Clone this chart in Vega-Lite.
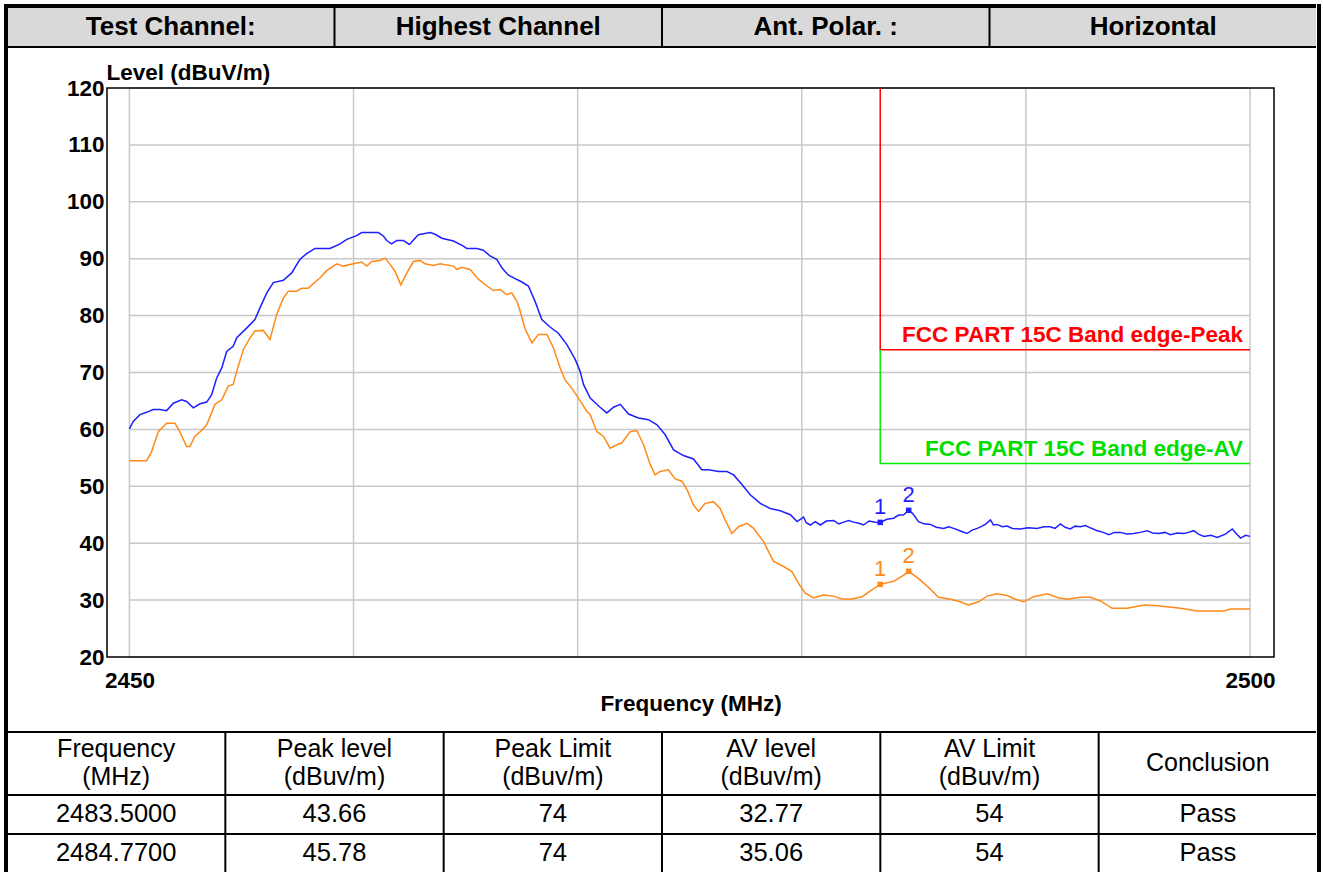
{
  "$schema": "https://vega.github.io/schema/vega-lite/v6.json",
  "background": "#ffffff",
  "padding": {"left": 4, "top": 4, "right": 3, "bottom": 0},
  "config": {"view": {"stroke": null}, "font": "Liberation Sans"},
  "datasets": {
    "head": [
      {"col": "a", "r": "h", "t": "Test Channel:"},
      {"col": "b", "r": "h", "t": "Highest Channel"},
      {"col": "c", "r": "h", "t": "Ant. Polar. :"},
      {"col": "d", "r": "h", "t": "Horizontal"}
    ],
    "fhead": [
      {"col": "a", "r": "h", "n": 2, "t": ["Frequency", "(MHz)"]},
      {"col": "b", "r": "h", "n": 2, "t": ["Peak level", "(dBuv/m)"]},
      {"col": "c", "r": "h", "n": 2, "t": ["Peak Limit", "(dBuv/m)"]},
      {"col": "d", "r": "h", "n": 2, "t": ["AV level", "(dBuv/m)"]},
      {"col": "e", "r": "h", "n": 2, "t": ["AV Limit", "(dBuv/m)"]},
      {"col": "f", "r": "h", "n": 1, "t": ["Conclusion"]}
    ],
    "frows": [
      {"col": "a", "r": "r1", "t": "2483.5000"},
      {"col": "b", "r": "r1", "t": "43.66"},
      {"col": "c", "r": "r1", "t": "74"},
      {"col": "d", "r": "r1", "t": "32.77"},
      {"col": "e", "r": "r1", "t": "54"},
      {"col": "f", "r": "r1", "t": "Pass"},
      {"col": "a", "r": "r2", "t": "2484.7700"},
      {"col": "b", "r": "r2", "t": "45.78"},
      {"col": "c", "r": "r2", "t": "74"},
      {"col": "d", "r": "r2", "t": "35.06"},
      {"col": "e", "r": "r2", "t": "54"},
      {"col": "f", "r": "r2", "t": "Pass"}
    ],
    "gridX": [{"g": 2450}, {"g": 2460}, {"g": 2470}, {"g": 2480}, {"g": 2490}, {"g": 2500}],
    "gridY": [{"g": 20}, {"g": 30}, {"g": 40}, {"g": 50}, {"g": 60}, {"g": 70}, {"g": 80}, {"g": 90}, {"g": 100}, {"g": 110}, {"g": 120}],
    "limPeak": [{"k": 1, "f": 2483.5, "v": 120}, {"k": 2, "f": 2483.5, "v": 74}, {"k": 3, "f": 2500, "v": 74}],
    "limAV": [{"k": 1, "f": 2483.5, "v": 74}, {"k": 2, "f": 2483.5, "v": 54}, {"k": 3, "f": 2500, "v": 54}],
    "limText": [
      {"f": 2500, "v": 74, "t": "FCC PART 15C Band edge-Peak", "c": "PeakLimit"},
      {"f": 2500, "v": 54, "t": "FCC PART 15C Band edge-AV", "c": "AVLimit"}
    ],
    "markers": [
      {"f": 2483.5, "v": 43.66, "n": "1", "c": "Peak"},
      {"f": 2484.77, "v": 45.78, "n": "2", "c": "Peak"},
      {"f": 2483.5, "v": 32.77, "n": "1", "c": "AV"},
      {"f": 2484.77, "v": 35.06, "n": "2", "c": "AV"}
    ],
    "peak": [
      {"f":2450.0,"v":60.1},{"f":2450.17,"v":61.4},{"f":2450.47,"v":62.6},{"f":2450.77,"v":63.0},{"f":2451.06,"v":63.5},{"f":2451.36,"v":63.5},{"f":2451.66,"v":63.3},{"f":2451.96,"v":64.6},{"f":2452.33,"v":65.2},{"f":2452.55,"v":64.9},{"f":2452.85,"v":63.8},{"f":2453.15,"v":64.5},{"f":2453.45,"v":64.8},{"f":2453.67,"v":66.1},{"f":2453.89,"v":69.0},{"f":2454.12,"v":70.8},{"f":2454.34,"v":73.7},{"f":2454.63,"v":74.6},{"f":2454.79,"v":76.1},{"f":2455.23,"v":77.8},{"f":2455.6,"v":79.3},{"f":2455.83,"v":81.4},{"f":2456.13,"v":84.0},{"f":2456.42,"v":85.8},{"f":2456.87,"v":86.2},{"f":2457.24,"v":87.5},{"f":2457.61,"v":89.9},{"f":2457.91,"v":90.9},{"f":2458.28,"v":91.8},{"f":2458.95,"v":91.8},{"f":2459.4,"v":92.6},{"f":2459.7,"v":93.4},{"f":2460.11,"v":94.0},{"f":2460.37,"v":94.6},{"f":2461.11,"v":94.6},{"f":2461.33,"v":94.0},{"f":2461.48,"v":93.2},{"f":2461.7,"v":92.6},{"f":2461.93,"v":93.2},{"f":2462.22,"v":93.2},{"f":2462.49,"v":92.5},{"f":2462.89,"v":94.2},{"f":2463.42,"v":94.6},{"f":2463.64,"v":94.3},{"f":2463.94,"v":93.6},{"f":2464.46,"v":93.1},{"f":2464.9,"v":92.2},{"f":2465.05,"v":91.8},{"f":2465.5,"v":91.8},{"f":2465.79,"v":91.5},{"f":2466.09,"v":90.5},{"f":2466.39,"v":89.9},{"f":2466.62,"v":88.4},{"f":2466.91,"v":87.1},{"f":2467.21,"v":86.5},{"f":2467.51,"v":85.9},{"f":2467.8,"v":85.2},{"f":2468.1,"v":82.5},{"f":2468.4,"v":79.3},{"f":2468.77,"v":78.0},{"f":2469.14,"v":76.9},{"f":2469.52,"v":74.9},{"f":2469.89,"v":72.3},{"f":2470.11,"v":70.2},{"f":2470.26,"v":67.9},{"f":2470.56,"v":65.5},{"f":2471.0,"v":63.9},{"f":2471.3,"v":62.9},{"f":2471.6,"v":63.9},{"f":2471.9,"v":64.4},{"f":2472.27,"v":62.7},{"f":2472.71,"v":62.0},{"f":2473.16,"v":61.7},{"f":2473.54,"v":60.8},{"f":2473.9,"v":59.1},{"f":2474.28,"v":56.4},{"f":2474.72,"v":55.4},{"f":2475.17,"v":54.8},{"f":2475.54,"v":52.9},{"f":2475.84,"v":52.9},{"f":2476.29,"v":52.6},{"f":2476.66,"v":52.6},{"f":2476.96,"v":52.0},{"f":2477.33,"v":50.3},{"f":2477.7,"v":48.5},{"f":2478.15,"v":47.0},{"f":2478.59,"v":46.1},{"f":2479.04,"v":45.7},{"f":2479.49,"v":45.0},{"f":2479.79,"v":43.8},{"f":2480.08,"v":44.6},{"f":2480.2,"v":43.6},{"f":2480.38,"v":43.2},{"f":2480.6,"v":43.8},{"f":2480.83,"v":43.2},{"f":2481.1,"v":43.9},{"f":2481.42,"v":44.0},{"f":2481.65,"v":43.4},{"f":2481.87,"v":43.7},{"f":2482.1,"v":44.0},{"f":2482.31,"v":43.7},{"f":2482.55,"v":43.5},{"f":2482.76,"v":43.2},{"f":2483.0,"v":43.9},{"f":2483.28,"v":43.7},{"f":2483.5,"v":43.66},{"f":2483.8,"v":44.2},{"f":2484.1,"v":44.4},{"f":2484.3,"v":44.9},{"f":2484.55,"v":45.0},{"f":2484.77,"v":45.78},{"f":2484.95,"v":45.2},{"f":2485.21,"v":43.8},{"f":2485.45,"v":43.4},{"f":2485.74,"v":43.3},{"f":2486.0,"v":42.8},{"f":2486.33,"v":42.6},{"f":2486.55,"v":42.9},{"f":2486.78,"v":42.6},{"f":2487.05,"v":42.2},{"f":2487.37,"v":41.7},{"f":2487.6,"v":42.3},{"f":2487.83,"v":42.6},{"f":2488.0,"v":42.9},{"f":2488.19,"v":43.3},{"f":2488.42,"v":44.1},{"f":2488.55,"v":43.2},{"f":2488.71,"v":43.3},{"f":2488.95,"v":42.9},{"f":2489.16,"v":43.0},{"f":2489.4,"v":42.6},{"f":2489.75,"v":42.5},{"f":2490.1,"v":42.7},{"f":2490.5,"v":42.6},{"f":2490.8,"v":42.9},{"f":2491.09,"v":42.9},{"f":2491.3,"v":42.6},{"f":2491.54,"v":43.4},{"f":2491.75,"v":42.8},{"f":2491.98,"v":42.5},{"f":2492.2,"v":43.0},{"f":2492.43,"v":42.9},{"f":2492.65,"v":43.1},{"f":2492.88,"v":42.7},{"f":2493.18,"v":42.2},{"f":2493.45,"v":41.9},{"f":2493.7,"v":41.5},{"f":2493.95,"v":41.9},{"f":2494.22,"v":41.9},{"f":2494.5,"v":41.6},{"f":2494.81,"v":41.7},{"f":2495.1,"v":41.9},{"f":2495.41,"v":42.2},{"f":2495.65,"v":41.8},{"f":2495.93,"v":41.7},{"f":2496.2,"v":41.9},{"f":2496.45,"v":41.5},{"f":2496.75,"v":41.8},{"f":2497.05,"v":41.7},{"f":2497.25,"v":41.9},{"f":2497.49,"v":42.2},{"f":2497.7,"v":41.6},{"f":2497.94,"v":41.2},{"f":2498.25,"v":41.4},{"f":2498.54,"v":41.0},{"f":2498.9,"v":41.6},{"f":2499.21,"v":42.5},{"f":2499.4,"v":41.6},{"f":2499.58,"v":40.9},{"f":2499.8,"v":41.4},{"f":2500.0,"v":41.2}
    ],
    "av": [
      {"f":2450.0,"v":54.5},{"f":2450.77,"v":54.5},{"f":2450.99,"v":56.1},{"f":2451.29,"v":59.6},{"f":2451.66,"v":61.1},{"f":2452.03,"v":61.1},{"f":2452.25,"v":59.6},{"f":2452.55,"v":57.0},{"f":2452.7,"v":57.0},{"f":2452.92,"v":58.8},{"f":2453.22,"v":59.8},{"f":2453.45,"v":60.8},{"f":2453.82,"v":64.4},{"f":2454.12,"v":65.2},{"f":2454.41,"v":67.6},{"f":2454.63,"v":67.9},{"f":2454.79,"v":70.2},{"f":2455.08,"v":74.0},{"f":2455.38,"v":76.1},{"f":2455.6,"v":77.3},{"f":2455.97,"v":77.4},{"f":2456.27,"v":75.8},{"f":2456.57,"v":80.2},{"f":2456.87,"v":83.1},{"f":2457.09,"v":84.3},{"f":2457.46,"v":84.3},{"f":2457.69,"v":84.8},{"f":2457.98,"v":84.8},{"f":2458.2,"v":85.6},{"f":2458.5,"v":86.6},{"f":2458.8,"v":87.9},{"f":2459.25,"v":89.1},{"f":2459.54,"v":88.7},{"f":2459.99,"v":89.1},{"f":2460.37,"v":89.4},{"f":2460.59,"v":88.7},{"f":2460.81,"v":89.5},{"f":2461.18,"v":89.7},{"f":2461.41,"v":90.1},{"f":2461.63,"v":89.0},{"f":2461.85,"v":87.8},{"f":2462.11,"v":85.4},{"f":2462.38,"v":87.5},{"f":2462.67,"v":89.5},{"f":2462.97,"v":89.7},{"f":2463.19,"v":89.1},{"f":2463.56,"v":88.8},{"f":2463.86,"v":89.1},{"f":2464.46,"v":88.7},{"f":2464.61,"v":88.1},{"f":2464.83,"v":88.5},{"f":2465.2,"v":88.1},{"f":2465.57,"v":86.4},{"f":2465.95,"v":85.2},{"f":2466.24,"v":84.4},{"f":2466.54,"v":84.6},{"f":2466.84,"v":83.7},{"f":2467.06,"v":84.0},{"f":2467.29,"v":82.5},{"f":2467.43,"v":80.8},{"f":2467.66,"v":77.6},{"f":2467.96,"v":75.2},{"f":2468.25,"v":76.7},{"f":2468.63,"v":76.7},{"f":2468.92,"v":74.3},{"f":2469.22,"v":70.8},{"f":2469.45,"v":68.6},{"f":2469.67,"v":67.6},{"f":2469.9,"v":66.3},{"f":2470.11,"v":65.0},{"f":2470.41,"v":63.2},{"f":2470.56,"v":62.6},{"f":2470.86,"v":59.6},{"f":2471.15,"v":58.8},{"f":2471.45,"v":56.7},{"f":2471.75,"v":57.3},{"f":2471.97,"v":57.6},{"f":2472.34,"v":59.6},{"f":2472.64,"v":59.8},{"f":2472.94,"v":57.3},{"f":2473.24,"v":53.8},{"f":2473.46,"v":52.0},{"f":2473.68,"v":52.6},{"f":2474.05,"v":52.9},{"f":2474.35,"v":51.3},{"f":2474.65,"v":50.9},{"f":2474.88,"v":49.4},{"f":2475.17,"v":46.7},{"f":2475.39,"v":45.6},{"f":2475.69,"v":47.0},{"f":2476.06,"v":47.3},{"f":2476.36,"v":46.1},{"f":2476.58,"v":44.1},{"f":2476.88,"v":41.7},{"f":2477.18,"v":42.9},{"f":2477.55,"v":43.5},{"f":2477.85,"v":42.6},{"f":2478.29,"v":40.3},{"f":2478.74,"v":36.8},{"f":2479.19,"v":35.9},{"f":2479.56,"v":35.0},{"f":2479.86,"v":32.9},{"f":2480.16,"v":31.2},{"f":2480.53,"v":30.4},{"f":2480.97,"v":30.9},{"f":2481.42,"v":30.7},{"f":2481.79,"v":30.2},{"f":2482.24,"v":30.2},{"f":2482.69,"v":30.6},{"f":2483.13,"v":31.8},{"f":2483.5,"v":32.77},{"f":2484.1,"v":33.3},{"f":2484.55,"v":34.4},{"f":2484.77,"v":35.06},{"f":2485.27,"v":33.6},{"f":2485.72,"v":32.0},{"f":2486.1,"v":30.5},{"f":2486.63,"v":30.15},{"f":2487.07,"v":29.7},{"f":2487.44,"v":29.15},{"f":2487.89,"v":29.7},{"f":2488.27,"v":30.7},{"f":2488.71,"v":31.1},{"f":2489.16,"v":30.8},{"f":2489.53,"v":30.15},{"f":2489.9,"v":29.7},{"f":2490.35,"v":30.6},{"f":2490.95,"v":31.1},{"f":2491.4,"v":30.45},{"f":2491.84,"v":30.15},{"f":2492.43,"v":30.5},{"f":2492.88,"v":30.5},{"f":2493.33,"v":29.85},{"f":2493.85,"v":28.55},{"f":2494.52,"v":28.55},{"f":2495.28,"v":29.15},{"f":2495.88,"v":29.0},{"f":2496.9,"v":28.55},{"f":2497.64,"v":28.1},{"f":2498.83,"v":28.1},{"f":2499.13,"v":28.45},{"f":2500.0,"v":28.45}
    ]
  },
  "spacing": 0,
  "hconcat": [
    {
      "width": 4, "height": 868,
      "view": {"fill": "#000000", "stroke": null},
      "data": {"values": [{"k": 1}]},
      "mark": {"type": "rect", "color": "#000000"}
    },
    {
      "spacing": 0,
      "vconcat": [
        {
          "width": 1308, "height": 44,
          "view": {"fill": "#000000", "stroke": null},
          "data": {"name": "head"},
          "encoding": {
            "x": {"field": "col", "type": "nominal", "axis": null, "sort": null, "scale": {"paddingInner": 0.006107, "paddingOuter": 0}},
            "y": {"field": "r", "type": "nominal", "axis": null, "scale": {"paddingInner": 0, "paddingOuter": 0.0789, "align": 0.6667}}
          },
          "layer": [
            {"mark": {"type": "rect", "fill": "#d9d9d9"}},
            {"mark": {"type": "text", "font": "Liberation Sans", "fontWeight": "bold", "fontSize": 26, "color": "#000000"},
             "encoding": {"text": {"field": "t", "type": "nominal"}}}
          ]
        },
        {
          "width": 1308, "height": 569,
          "resolve": {"axis": {"x": "independent"}},
          "layer": [
            {
              "data": {"name": "gridY"},
              "mark": {"type": "rule", "color": "#c8c8c8", "strokeWidth": 1.5},
              "encoding": {
                "y": {"field": "g", "type": "quantitative",
                      "scale": {"domain": [20, 120], "nice": false, "zero": false},
                      "axis": {"values": [20, 30, 40, 50, 60, 70, 80, 90, 100, 110, 120], "format": "d", "grid": false, "ticks": false, "domain": false,
                               "offset": -99,
                               "labelFont": "Liberation Sans", "labelFontWeight": "bold", "labelFontSize": 22.5, "labelColor": "#000000",
                               "labelPadding": 3, "labelBaseline": "middle", "labelFlush": false, "labelOverlap": false,
                               "title": "Level (dBuV/m)", "titleFont": "Liberation Sans", "titleFontWeight": "bold", "titleFontSize": 22.5,
                               "titleColor": "#000000", "titleAngle": 0, "titleAlign": "left", "titleBaseline": "alphabetic",
                               "titleX": -1, "titleY": -9, "minExtent": 0, "maxExtent": 0}},
                "x": {"datum": 2450, "type": "quantitative", "axis": null},
                "x2": {"datum": 2500}
              }
            },
            {
              "data": {"name": "gridX"},
              "mark": {"type": "rule", "color": "#c8c8c8", "strokeWidth": 1.5},
              "encoding": {
                "x": {"field": "g", "type": "quantitative",
                      "scale": {"domain": [2449, 2501.07], "range": [99, 1266], "nice": false, "zero": false},
                      "axis": {"orient": "bottom", "values": [2450, 2500], "format": "d", "grid": false, "ticks": false, "domain": false,
                               "labelFont": "Liberation Sans", "labelFontWeight": "bold", "labelFontSize": 22.5, "labelColor": "#000000",
                               "labelBaseline": "alphabetic", "labelPadding": 30, "labelFlush": false, "labelOverlap": false,
                               "title": "Frequency (MHz)", "titleFont": "Liberation Sans", "titleFontWeight": "bold", "titleFontSize": 22.5,
                               "titleColor": "#000000", "titleBaseline": "alphabetic", "titleAlign": "center", "titleX": 682.5, "titleY": 53,
                               "minExtent": 74, "maxExtent": 74}},
                "y": {"datum": 20, "type": "quantitative"},
                "y2": {"datum": 120}
              }
            },
            {
              "data": {"values": [{"k": "frame"}]},
              "mark": {"type": "rect", "filled": false, "stroke": "#000000", "strokeWidth": 1.5},
              "encoding": {
                "x": {"datum": 2449, "type": "quantitative", "axis": null},
                "x2": {"datum": 2501.07},
                "y": {"datum": 20, "type": "quantitative"},
                "y2": {"datum": 120}
              }
            },
            {
              "data": {"name": "limPeak"},
              "mark": {"type": "line", "color": "#ff0000", "strokeWidth": 1.5},
              "encoding": {
                "x": {"field": "f", "type": "quantitative", "axis": null},
                "y": {"field": "v", "type": "quantitative"},
                "order": {"field": "k", "type": "quantitative"}
              }
            },
            {
              "data": {"name": "limAV"},
              "mark": {"type": "line", "color": "#00ee00", "strokeWidth": 1.5},
              "encoding": {
                "x": {"field": "f", "type": "quantitative", "axis": null},
                "y": {"field": "v", "type": "quantitative"},
                "order": {"field": "k", "type": "quantitative"}
              }
            },
            {
              "data": {"name": "av"},
              "mark": {"type": "line", "color": "#ff8a1a", "strokeWidth": 1.5},
              "encoding": {
                "x": {"field": "f", "type": "quantitative", "axis": null},
                "y": {"field": "v", "type": "quantitative"}
              }
            },
            {
              "data": {"name": "peak"},
              "mark": {"type": "line", "color": "#1f1fff", "strokeWidth": 1.5},
              "encoding": {
                "x": {"field": "f", "type": "quantitative", "axis": null},
                "y": {"field": "v", "type": "quantitative"}
              }
            },
            {
              "data": {"name": "markers"},
              "mark": {"type": "square", "size": 30, "filled": true, "opacity": 1},
              "encoding": {
                "x": {"field": "f", "type": "quantitative", "axis": null},
                "y": {"field": "v", "type": "quantitative"},
                "color": {"field": "c", "type": "nominal", "legend": null,
                          "scale": {"domain": ["Peak", "AV", "PeakLimit", "AVLimit"], "range": ["#1f1fff", "#ff8a1a", "#ff0000", "#00dd00"]}}
              }
            },
            {
              "data": {"name": "markers"},
              "mark": {"type": "text", "font": "Liberation Sans", "fontSize": 22, "baseline": "alphabetic", "align": "center", "dy": -8},
              "encoding": {
                "x": {"field": "f", "type": "quantitative", "axis": null},
                "y": {"field": "v", "type": "quantitative"},
                "text": {"field": "n", "type": "nominal"},
                "color": {"field": "c", "type": "nominal", "legend": null}
              }
            },
            {
              "data": {"name": "limText"},
              "mark": {"type": "text", "font": "Liberation Sans", "fontWeight": "bold", "fontSize": 22.5, "baseline": "alphabetic", "align": "right", "dx": -7, "dy": -8},
              "encoding": {
                "x": {"field": "f", "type": "quantitative", "axis": null},
                "y": {"field": "v", "type": "quantitative"},
                "text": {"field": "t", "type": "nominal"},
                "color": {"field": "c", "type": "nominal", "legend": null}
              }
            },
            {
              "data": {"values": [{"f": 2450}]},
              "mark": {"type": "rule", "opacity": 0},
              "encoding": {
                "x": {"field": "f", "type": "quantitative",
                      "axis": {"orient": "top", "labels": false, "ticks": false, "domain": false, "grid": false, "title": null, "minExtent": 40, "maxExtent": 40}}
              }
            }
          ]
        },
        {
          "width": 1308, "height": 63,
          "view": {"fill": "#000000", "stroke": null},
          "data": {"name": "fhead"},
          "encoding": {
            "x": {"field": "col", "type": "nominal", "axis": null, "sort": null, "scale": {"paddingInner": 0.00916, "paddingOuter": 0}},
            "y": {"field": "r", "type": "nominal", "axis": null, "scale": {"paddingInner": 0, "paddingOuter": 0.01639, "align": 1}}
          },
          "layer": [
            {"mark": {"type": "rect", "fill": "#ffffff"}},
            {"transform": [{"filter": "datum.n == 2"}],
             "mark": {"type": "text", "font": "Liberation Sans", "fontSize": 25, "lineHeight": 28, "dy": -14, "color": "#000000"},
             "encoding": {"text": {"field": "t"}}},
            {"transform": [{"filter": "datum.n == 1"}],
             "mark": {"type": "text", "font": "Liberation Sans", "fontSize": 25, "color": "#000000"},
             "encoding": {"text": {"field": "t"}}}
          ]
        },
        {
          "width": 1308, "height": 78,
          "view": {"fill": "#000000", "stroke": null},
          "data": {"name": "frows"},
          "encoding": {
            "x": {"field": "col", "type": "nominal", "axis": null, "sort": null, "scale": {"paddingInner": 0.00916, "paddingOuter": 0}},
            "y": {"field": "r", "type": "nominal", "axis": null, "sort": null, "scale": {"paddingInner": 0.05128, "paddingOuter": 0.02564, "align": 1}}
          },
          "layer": [
            {"mark": {"type": "rect", "fill": "#ffffff"}},
            {"mark": {"type": "text", "font": "Liberation Sans", "fontSize": 25.5, "color": "#000000"},
             "encoding": {"text": {"field": "t", "type": "nominal"}}}
          ]
        }
      ]
    },
    {
      "width": 4, "height": 868,
      "view": {"fill": "#000000", "stroke": null},
      "data": {"values": [{"k": 1}]},
      "mark": {"type": "rect", "color": "#000000"}
    }
  ]
}
